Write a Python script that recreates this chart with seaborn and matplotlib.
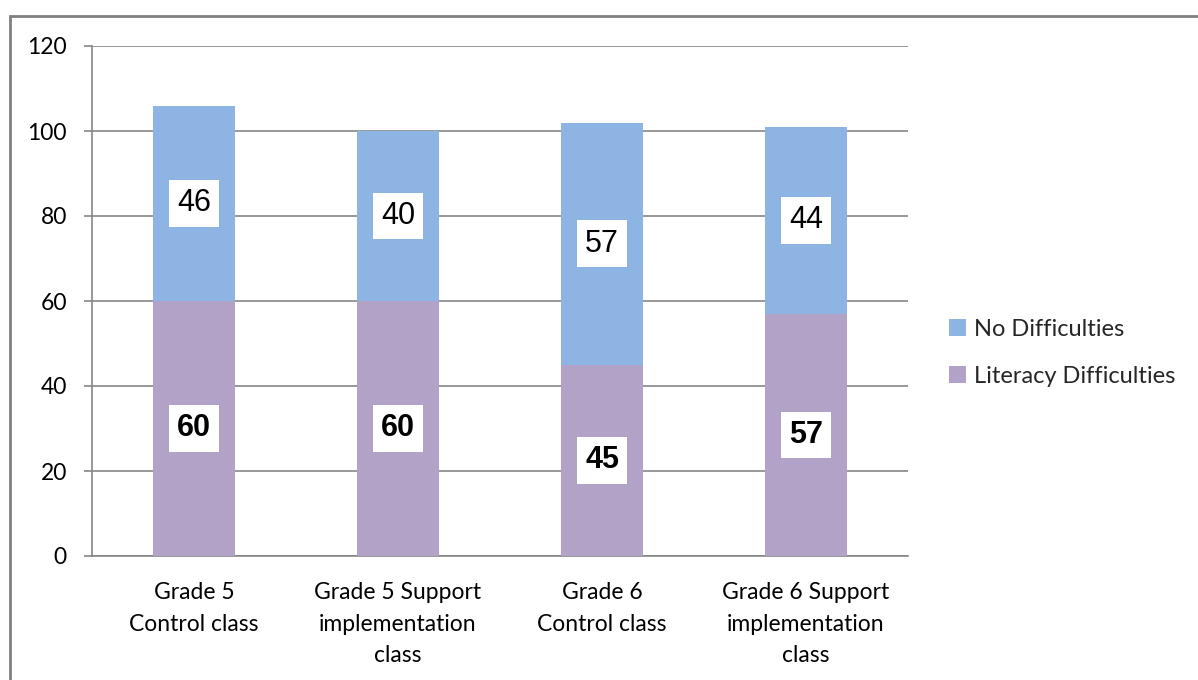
import matplotlib
matplotlib.use("Agg")
import matplotlib.pyplot as plt
from matplotlib.patches import Rectangle
import seaborn as sns
import pandas as pd
import numpy as np

categories = [
    "Grade 5\nControl class",
    "Grade 5 Support\nimplementation\nclass",
    "Grade 6\nControl class",
    "Grade 6 Support\nimplementation\nclass",
]
literacy_difficulties = [60, 60, 45, 57]
no_difficulties = [46, 40, 57, 44]
y_ticks = [0, 20, 40, 60, 80, 100, 120]

BLUE = "#8EB4E3"
PURPLE = "#B3A2C7"
GRID = "#868686"

sns.set_theme(style="white")
plt.rcParams["font.family"] = ["Lato", "DejaVu Sans"]

df = pd.DataFrame({
    "category": categories,
    "literacy": literacy_difficulties,
    "none": no_difficulties,
})
df["total"] = df["literacy"] + df["none"]

fig = plt.figure(figsize=(11.98, 6.8), dpi=100)
ax = fig.add_axes([92 / 1198, 1 - 556 / 680, (908 - 92) / 1198, (556 - 46) / 680])

# Outer chart frame
fig.add_artist(Rectangle((9.5 / 1198, -0.1), 1.2, 1 - 15.5 / 680 + 0.1,
                         transform=fig.transFigure, fill=False,
                         edgecolor="#808080", linewidth=2, clip_on=False))

# Stacked bars: totals first, lower segment drawn over them
sns.barplot(data=df, x="category", y="total", color=BLUE, width=0.4,
            saturation=1, ax=ax, linewidth=0, edgecolor="none", zorder=3)
sns.barplot(data=df, x="category", y="literacy", color=PURPLE, width=0.4,
            saturation=1, ax=ax, linewidth=0, edgecolor="none", zorder=3)

ax.set_ylim(0, 120)
ax.set_xlim(-0.5, len(categories) - 0.5)
ax.set_yticks(y_ticks)
ax.set_yticklabels([str(t) for t in y_ticks], fontsize=16.5, color="black")
ax.yaxis.grid(True, color=GRID, linewidth=1.2, zorder=0)
ax.set_axisbelow(True)
ax.set_xlabel("")
ax.set_ylabel("")

ax.set_xticks(range(len(categories)))
ax.set_xticklabels(categories, fontsize=16.5, color="black", linespacing=1.6)
ax.set_xticks(np.arange(-0.5, len(categories), 1), minor=True)
ax.tick_params(axis="x", which="major", length=0, pad=19)
ax.tick_params(axis="x", which="minor", length=6, width=1.2, color=GRID, direction="out")
ax.tick_params(axis="y", which="major", length=6, width=1.2, color=GRID, direction="out", pad=12, left=True)

for side in ["top", "right"]:
    ax.spines[side].set_visible(False)
for side in ["left", "bottom"]:
    ax.spines[side].set_color(GRID)
    ax.spines[side].set_linewidth(1.2)

# Value labels in white boxes
for i, (lit, none) in enumerate(zip(literacy_difficulties, no_difficulties)):
    ax.text(i, lit / 2, str(lit), ha="center", va="center", fontsize=22,
            fontweight="bold", family="Liberation Sans", color="black", zorder=5,
            bbox=dict(facecolor="white", edgecolor="none", pad=6))
    ax.text(i, lit + none / 2, str(none), ha="center", va="center", fontsize=22,
            family="Liberation Sans", color="black", zorder=5,
            bbox=dict(facecolor="white", edgecolor="none", pad=6))

handles = [Rectangle((0, 0), 1, 1, facecolor=BLUE, edgecolor="none"),
           Rectangle((0, 0), 1, 1, facecolor=PURPLE, edgecolor="none")]
fig.legend(handles, ["No Difficulties", "Literacy Difficulties"],
           loc="center left", bbox_to_anchor=(949 / 1198, 1 - 353 / 680),
           frameon=False, fontsize=17, handlelength=0.7, handleheight=0.7,
           handletextpad=0.35, labelspacing=1.1, borderaxespad=0, borderpad=0)

fig.savefig("out.png", dpi=100)
